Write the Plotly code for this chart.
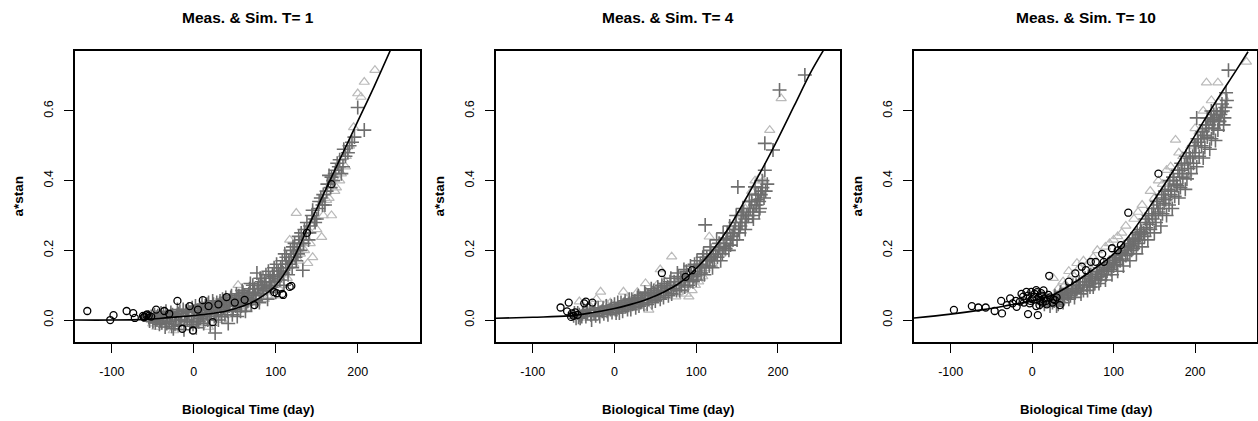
import plotly.graph_objects as go

# ---------------- data ----------------
titles = ["Meas. & Sim. T= 1", "Meas. & Sim. T= 4", "Meas. & Sim. T= 10"]
x_title = "Biological Time (day)"
y_title = "a*stan"
x_ticks = [-100, 0, 100, 200]
y_ticks = [0.0, 0.2, 0.4, 0.6]
x_range = [-145, 276]
y_range = [-0.063, 0.772]

# fitted curves
t1_curve_x = [-145, -100, -60, -40, -20, 0, 20, 40, 60, 80, 100, 120, 140, 160, 180, 200, 220, 240]
t1_curve_y = [0.0, 0.0, 0.002, 0.005, 0.009, 0.013, 0.018, 0.026, 0.04, 0.063, 0.1, 0.17, 0.27, 0.37, 0.47, 0.57, 0.67, 0.775]
t4_curve_x = [-145, -100, -56, -30, 0, 20, 40, 60, 80, 100, 120, 140, 160, 180, 200, 220, 240, 256]
t4_curve_y = [0.005, 0.008, 0.012, 0.02, 0.033, 0.045, 0.06, 0.08, 0.107, 0.148, 0.2, 0.265, 0.345, 0.43, 0.52, 0.615, 0.71, 0.775]
t10_curve_x = [-145, -100, -60, -30, 0, 25, 50, 75, 100, 125, 150, 175, 200, 225, 250, 265]
t10_curve_y = [0.006, 0.017, 0.03, 0.042, 0.055, 0.072, 0.105, 0.145, 0.19, 0.26, 0.345, 0.435, 0.53, 0.625, 0.715, 0.77]

# measured points (open circles)
t1_circles = [(-130, 0.026), (-102, 0.0), (-98, 0.014), (-82, 0.026), (-74, 0.02), (-72, 0.006), (-62, 0.012),
              (-60, 0.01), (-61, 0.008), (-58, 0.014), (-57, 0.016), (-55, 0.012), (-52, 0.01), (-46, 0.03),
              (-36, 0.026), (-30, 0.018), (-20, 0.055), (-14, -0.025), (-5, 0.04), (-1, -0.03), (5, 0.03),
              (11, 0.057), (18, 0.04), (23, -0.006), (30, 0.045), (40, 0.066), (50, 0.05), (62, 0.058),
              (74, 0.043), (98, 0.08), (101, 0.077), (108, 0.075), (109, 0.072), (117, 0.095), (119, 0.098),
              (138, 0.25), (168, 0.39)]
t4_circles = [(-66, 0.036), (-58, 0.025), (-56, 0.05), (-53, 0.009), (-52, 0.019), (-50, 0.012), (-48, 0.022),
              (-45, 0.015), (-37, 0.048), (-35, 0.053), (-27, 0.05), (58, 0.135), (87, 0.124), (95, 0.143)]
t10_circles = [(-96, 0.029), (-74, 0.04), (-66, 0.036), (-57, 0.036), (-46, 0.026), (-38, 0.055), (-37, 0.019),
               (-31, 0.043), (-27, 0.062), (-24, 0.048), (-20, 0.055), (-19, 0.038), (-15, 0.053), (-13, 0.075),
               (-11, 0.067), (-10, 0.05), (-7, 0.081), (-7, 0.062), (-5, 0.017), (-3, 0.048), (-1, 0.081),
               (0, 0.06), (2, 0.067), (5, 0.086), (5, 0.04), (7, 0.014), (9, 0.043), (10, 0.055), (11, 0.077),
               (14, 0.085), (15, 0.062), (20, 0.072), (21, 0.127), (25, 0.05), (28, 0.057), (34, 0.043),
               (-5, 0.07), (3, 0.075), (8, 0.065), (12, 0.07), (17, 0.055), (22, 0.065), (26, 0.06), (30, 0.065),
               (-2, 0.055), (6, 0.08), (13, 0.05), (18, 0.045),
               (45, 0.11), (53, 0.134), (61, 0.153), (66, 0.143), (72, 0.167), (78, 0.167), (86, 0.19),
               (88, 0.167), (98, 0.206), (105, 0.2), (109, 0.215), (118, 0.308), (155, 0.42)]

# simulated points, first set (open triangles, light grey)
t1_triangles = [(-50, -0.01), (-42, 0.0), (-35, -0.015), (-28, 0.005), (-20, -0.02), (-12, 0.01), (-5, -0.01),
                (2, 0.02), (8, 0.0), (15, 0.025), (22, 0.01), (30, 0.03), (38, 0.015), (45, 0.045), (54, 0.1),
                (60, 0.04), (68, 0.06), (75, 0.05), (82, 0.08), (90, 0.07), (96, 0.11), (104, 0.09), (110, 0.13),
                (117, 0.23), (122, 0.16), (125, 0.307), (130, 0.19), (139, 0.163), (145, 0.18), (150, 0.26),
                (156, 0.238), (162, 0.344), (168, 0.3), (174, 0.38), (180, 0.42), (186, 0.47), (195, 0.553),
                (200, 0.65), (204, 0.64), (208, 0.683), (221, 0.717),
                (-45, -0.02), (-38, -0.01), (-25, -0.03), (-15, -0.02), (-8, 0.0), (5, -0.01), (12, 0.0),
                (18, -0.02), (28, 0.005), (35, 0.0), (50, 0.02), (58, 0.03), (65, 0.035), (72, 0.06), (86, 0.06),
                (100, 0.07), (107, 0.1), (114, 0.12), (128, 0.17), (135, 0.2), (142, 0.22), (158, 0.3),
                (165, 0.35), (172, 0.37), (178, 0.4), (185, 0.44), (190, 0.5)]
t4_triangles = [(-43, 0.053), (-35, 0.03), (-17, 0.081), (-10, 0.046), (11, 0.081), (20, 0.04), (38, 0.105),
                (42, 0.029), (50, 0.06), (56, 0.145), (65, 0.07), (70, 0.182), (75, 0.067), (83, 0.086),
                (91, 0.067), (99, 0.1), (105, 0.12), (111, 0.148), (116, 0.239), (127, 0.21), (135, 0.22),
                (145, 0.25), (155, 0.3), (165, 0.35), (172, 0.4), (190, 0.545), (204, 0.636),
                (-30, 0.04), (-22, 0.06), (-5, 0.05), (5, 0.04), (15, 0.06), (28, 0.08), (33, 0.05), (47, 0.07),
                (52, 0.1), (62, 0.11), (78, 0.08), (88, 0.075), (95, 0.085), (103, 0.11), (108, 0.125),
                (120, 0.16), (130, 0.19), (150, 0.27), (160, 0.32), (168, 0.37), (178, 0.41), (182, 0.4)]
t10_triangles = [(26, 0.12), (30, 0.06), (35, 0.08), (40, 0.1), (45, 0.14), (55, 0.163), (60, 0.09), (63, 0.17),
                 (80, 0.2), (85, 0.13), (90, 0.21), (100, 0.23), (110, 0.25), (120, 0.2), (130, 0.31),
                 (140, 0.27), (150, 0.35), (160, 0.39), (170, 0.44), (176, 0.517), (185, 0.47), (190, 0.42),
                 (195, 0.5), (205, 0.54), (214, 0.681), (220, 0.63), (228, 0.681), (263, 0.741),
                 (32, 0.09), (38, 0.11), (50, 0.13), (58, 0.15), (68, 0.16), (75, 0.18), (95, 0.22), (105, 0.24),
                 (115, 0.27), (125, 0.29), (135, 0.33), (145, 0.37), (155, 0.4), (165, 0.43), (180, 0.48),
                 (200, 0.55), (210, 0.6), (235, 0.64)]

# simulated points, second set (plus signs, dark grey)
t1_plus = [(-55, 0.008), (-50, -0.005), (-48, 0.015), (-45, 0.0), (-42, -0.012), (-40, 0.02), (-38, 0.005),
           (-35, -0.02), (-32, 0.01), (-30, -0.005), (-28, 0.022), (-25, -0.025), (-22, 0.0), (-20, 0.03),
           (-18, -0.015), (-15, 0.012), (-12, -0.028), (-10, 0.025), (-8, 0.0), (-5, -0.018), (-2, 0.035),
           (0, 0.01), (3, -0.022), (5, 0.028), (8, 0.005), (10, 0.045), (12, -0.01), (15, 0.02), (18, 0.05),
           (20, -0.015), (22, 0.035), (25, 0.01), (26, -0.037), (28, 0.05), (30, 0.0), (33, 0.03), (35, 0.06),
           (38, 0.015), (40, 0.045), (42, -0.01), (45, 0.065), (48, 0.03), (50, 0.055), (53, 0.01), (55, 0.07),
           (58, 0.04), (60, 0.08), (63, 0.025), (65, 0.065), (68, 0.09), (70, 0.045), (72, 0.1), (75, 0.07),
           (77, 0.135), (80, 0.05), (83, 0.11), (85, 0.085), (88, 0.13), (90, 0.06), (93, 0.12), (95, 0.095),
           (98, 0.15), (100, 0.08), (103, 0.14), (105, 0.115), (108, 0.17), (110, 0.1), (113, 0.18),
           (115, 0.13), (118, 0.2), (120, 0.15), (123, 0.22), (125, 0.17), (128, 0.24), (130, 0.2),
           (133, 0.143), (135, 0.26), (140, 0.23), (145, 0.315), (150, 0.29), (155, 0.35), (160, 0.33),
           (165, 0.415), (170, 0.4), (175, 0.45), (180, 0.42), (182, 0.44), (190, 0.5), (196, 0.525),
           (200, 0.61), (208, 0.545),
           (-52, 0.01), (-47, -0.008), (-44, 0.012), (-41, 0.0), (-37, 0.018), (-33, -0.01), (-29, 0.008),
           (-26, 0.015), (-23, -0.012), (-19, 0.018), (-16, 0.0), (-13, 0.03), (-9, 0.012), (-6, 0.022),
           (-3, -0.005), (1, 0.025), (4, 0.0), (7, 0.035), (11, 0.015), (14, 0.04), (17, 0.0), (21, 0.025),
           (24, 0.045), (27, 0.015), (31, 0.04), (34, 0.01), (37, 0.055), (41, 0.025), (44, 0.05), (47, 0.015),
           (51, 0.04), (54, 0.06), (57, 0.025), (61, 0.06), (64, 0.045), (67, 0.075), (71, 0.06), (74, 0.09),
           (76, 0.055), (79, 0.1), (82, 0.075), (86, 0.11), (89, 0.09), (92, 0.1), (96, 0.13), (99, 0.11),
           (102, 0.125), (106, 0.15), (109, 0.135), (112, 0.16), (116, 0.17), (119, 0.18), (122, 0.19),
           (126, 0.2), (129, 0.22), (132, 0.23), (137, 0.25), (142, 0.27), (147, 0.29), (152, 0.32),
           (157, 0.33), (162, 0.37), (167, 0.38), (172, 0.42), (177, 0.44), (185, 0.47), (188, 0.48),
           (193, 0.51),
           (-54, -0.003), (-46, 0.008), (-39, -0.008), (-34, 0.025), (-27, -0.018), (-21, 0.012), (-17, 0.025),
           (-11, -0.005), (-7, 0.03), (-1, -0.012), (2, 0.04), (6, -0.005), (9, 0.02), (13, 0.03), (16, 0.045),
           (19, 0.01), (23, 0.055), (29, 0.03), (32, 0.055), (36, 0.035), (39, 0.065), (43, 0.04), (46, 0.07),
           (49, 0.045), (52, 0.075), (56, 0.05), (59, 0.085), (62, 0.07), (66, 0.055), (69, 0.105), (73, 0.08),
           (78, 0.09), (81, 0.12), (84, 0.095), (87, 0.1), (91, 0.14), (94, 0.11), (97, 0.125), (101, 0.16),
           (104, 0.13), (107, 0.14), (111, 0.19), (114, 0.15), (117, 0.16), (121, 0.21), (124, 0.18),
           (127, 0.19), (131, 0.25), (134, 0.22), (138, 0.28), (141, 0.25), (144, 0.3), (148, 0.28),
           (153, 0.34), (158, 0.36), (163, 0.39), (168, 0.41), (173, 0.43), (178, 0.46), (183, 0.49)]
t4_plus = [(-50, 0.012), (-45, 0.02), (-42, 0.005), (-38, 0.025), (-35, 0.01), (-30, 0.03), (-28, 0.0),
           (-25, 0.02), (-20, 0.035), (-18, 0.01), (-15, 0.025), (-10, 0.04), (-8, 0.015), (-5, 0.03),
           (0, 0.045), (2, 0.02), (5, 0.035), (8, 0.05), (10, 0.025), (14, 0.04), (18, 0.06), (20, 0.03),
           (24, 0.05), (28, 0.065), (30, 0.04), (34, 0.06), (38, 0.075), (40, 0.045), (44, 0.07), (48, 0.085),
           (50, 0.055), (54, 0.08), (58, 0.1), (60, 0.065), (64, 0.09), (68, 0.11), (70, 0.075), (74, 0.1),
           (78, 0.125), (80, 0.085), (84, 0.115), (88, 0.14), (90, 0.1), (94, 0.13), (98, 0.16), (100, 0.115),
           (104, 0.15), (108, 0.18), (110, 0.13), (111, 0.273), (114, 0.17), (118, 0.2), (119, 0.182),
           (120, 0.15), (124, 0.19), (128, 0.22), (130, 0.17), (134, 0.21), (138, 0.25), (140, 0.2),
           (142, 0.215), (144, 0.24), (148, 0.28), (150, 0.23), (151, 0.382), (154, 0.27), (158, 0.31),
           (160, 0.26), (164, 0.3), (168, 0.34), (170, 0.29), (172, 0.382), (174, 0.33), (176, 0.36),
           (178, 0.32), (180, 0.37), (184, 0.43), (184, 0.507), (194, 0.488), (202, 0.66), (233, 0.703),
           (-47, 0.005), (-43, 0.015), (-40, 0.01), (-33, 0.02), (-23, 0.012), (-13, 0.018), (-3, 0.022),
           (3, 0.03), (6, 0.02), (12, 0.045), (16, 0.03), (22, 0.045), (26, 0.035), (32, 0.05), (36, 0.045),
           (42, 0.06), (46, 0.05), (52, 0.07), (56, 0.06), (62, 0.08), (66, 0.07), (72, 0.09), (76, 0.085),
           (82, 0.1), (86, 0.095), (92, 0.115), (96, 0.11), (102, 0.13), (106, 0.135), (112, 0.15),
           (116, 0.155), (122, 0.17), (126, 0.18), (132, 0.19), (136, 0.205), (142, 0.23), (146, 0.25),
           (152, 0.26), (156, 0.28), (162, 0.3), (166, 0.32), (172, 0.33), (175, 0.345), (177, 0.34),
           (179, 0.36), (181, 0.38), (183, 0.35), (170, 0.31), (160, 0.29), (155, 0.3), (147, 0.26),
           (137, 0.235), (127, 0.2), (117, 0.175), (107, 0.155), (97, 0.125), (87, 0.12),
           (-49, 0.02), (-44, 0.008), (-39, 0.018), (-34, 0.028), (-29, 0.015), (-24, 0.03), (-19, 0.02),
           (-14, 0.035), (-9, 0.025), (-4, 0.04), (1, 0.03), (4, 0.05), (9, 0.038), (13, 0.055), (17, 0.045),
           (21, 0.06), (25, 0.055), (29, 0.07), (33, 0.06), (37, 0.08), (41, 0.07), (45, 0.09), (49, 0.075),
           (53, 0.095), (57, 0.085), (61, 0.105), (65, 0.095), (69, 0.12), (73, 0.11), (77, 0.135), (81, 0.12),
           (85, 0.145), (89, 0.13), (93, 0.155), (97, 0.14), (101, 0.17), (105, 0.16), (109, 0.19), (113, 0.18),
           (117, 0.21), (121, 0.19), (125, 0.23), (129, 0.21), (133, 0.25), (137, 0.22), (141, 0.27),
           (145, 0.23), (149, 0.3), (153, 0.25), (157, 0.32), (161, 0.28), (165, 0.34), (169, 0.3),
           (173, 0.36), (177, 0.31), (181, 0.4), (185, 0.37), (187, 0.39)]
t10_plus = [(10, 0.05), (15, 0.045), (18, 0.065), (20, 0.055), (22, 0.04), (25, 0.05), (28, 0.07), (30, 0.04),
            (33, 0.06), (35, 0.08), (38, 0.05), (40, 0.07), (42, 0.09), (45, 0.06), (48, 0.08), (50, 0.1),
            (52, 0.065), (55, 0.09), (58, 0.11), (60, 0.075), (62, 0.1), (65, 0.12), (68, 0.085), (70, 0.11),
            (72, 0.13), (75, 0.095), (78, 0.12), (80, 0.14), (82, 0.105), (85, 0.13), (88, 0.155), (90, 0.115),
            (92, 0.14), (95, 0.165), (98, 0.13), (100, 0.155), (102, 0.18), (105, 0.14), (108, 0.17),
            (110, 0.195), (112, 0.155), (115, 0.185), (118, 0.21), (120, 0.17), (122, 0.2), (125, 0.225),
            (128, 0.19), (130, 0.22), (132, 0.245), (135, 0.21), (138, 0.24), (140, 0.265), (142, 0.23),
            (145, 0.26), (148, 0.29), (150, 0.25), (152, 0.28), (155, 0.31), (158, 0.27), (160, 0.305),
            (162, 0.335), (165, 0.3), (168, 0.33), (170, 0.36), (172, 0.32), (175, 0.355), (178, 0.385),
            (180, 0.35), (182, 0.38), (185, 0.41), (188, 0.375), (190, 0.405), (192, 0.435), (195, 0.42),
            (198, 0.45), (200, 0.48), (202, 0.44), (202, 0.58), (205, 0.47), (208, 0.5), (210, 0.465),
            (212, 0.495), (215, 0.525), (215, 0.58), (218, 0.49), (220, 0.52), (220, 0.6), (222, 0.55),
            (225, 0.515), (226, 0.6), (228, 0.545), (230, 0.57), (232, 0.598), (235, 0.56), (238, 0.652),
            (241, 0.717),
            (27, 0.055), (32, 0.045), (37, 0.065), (43, 0.075), (47, 0.07), (53, 0.08), (57, 0.095), (63, 0.085),
            (67, 0.1), (71, 0.095), (74, 0.115), (77, 0.105), (81, 0.125), (84, 0.115), (87, 0.14), (91, 0.13),
            (94, 0.15), (97, 0.145), (101, 0.165), (104, 0.16), (107, 0.185), (111, 0.175), (114, 0.2),
            (117, 0.19), (121, 0.215), (124, 0.205), (127, 0.235), (131, 0.23), (134, 0.255), (137, 0.25),
            (141, 0.28), (144, 0.275), (147, 0.305), (151, 0.3), (154, 0.33), (157, 0.32), (161, 0.35),
            (164, 0.345), (167, 0.375), (171, 0.37), (174, 0.4), (177, 0.39), (181, 0.42), (184, 0.43),
            (187, 0.445), (191, 0.45), (194, 0.465), (197, 0.47), (201, 0.5), (204, 0.51), (207, 0.52),
            (211, 0.53), (214, 0.55), (217, 0.56), (221, 0.57), (224, 0.575), (227, 0.59), (231, 0.59),
            (234, 0.6), (237, 0.61), (236, 0.58), (229, 0.57), (223, 0.55),
            (29, 0.06), (34, 0.07), (39, 0.06), (44, 0.085), (49, 0.09), (54, 0.1), (59, 0.1), (64, 0.11),
            (69, 0.125), (73, 0.12), (79, 0.135), (83, 0.15), (89, 0.145), (93, 0.16), (99, 0.17), (103, 0.175),
            (109, 0.19), (113, 0.21), (119, 0.22), (123, 0.23), (129, 0.25), (133, 0.26), (139, 0.29),
            (143, 0.3), (149, 0.32), (153, 0.34), (159, 0.36), (163, 0.37), (169, 0.4), (173, 0.41),
            (179, 0.43), (183, 0.45), (189, 0.47), (193, 0.48), (199, 0.5), (203, 0.52), (209, 0.54),
            (213, 0.56), (219, 0.58), (223, 0.59), (233, 0.62), (239, 0.63)]

panels = [
    (t1_curve_x, t1_curve_y, t1_circles, t1_triangles, t1_plus),
    (t4_curve_x, t4_curve_y, t4_circles, t4_triangles, t4_plus),
    (t10_curve_x, t10_curve_y, t10_circles, t10_triangles, t10_plus),
]

# ---------------- layout geometry (pixels of a 1258x421 canvas) ----------------
W, H = 1258, 421
panel_px = [(75, 420), (496, 840), (914, 1257)]
top_px, bottom_px = 51, 342
FONT = "Arial, Liberation Sans, sans-serif"
PLUS_COL = "#6e6e6e"
TRI_COL = "#bababa"

fig = go.Figure()

for i, (cx, cy, circ, tri, plus) in enumerate(panels):
    xa = "x" if i == 0 else f"x{i+1}"
    ya = "y" if i == 0 else f"y{i+1}"
    fig.add_trace(go.Scatter(
        x=[p[0] for p in tri], y=[p[1] for p in tri], xaxis=xa, yaxis=ya, mode="markers",
        marker=dict(symbol="triangle-up-open", size=9, color=TRI_COL, line=dict(color=TRI_COL, width=1.2)),
        showlegend=False, hoverinfo="x+y"))
    fig.add_trace(go.Scatter(
        x=[p[0] for p in plus], y=[p[1] for p in plus], xaxis=xa, yaxis=ya, mode="markers",
        marker=dict(symbol="cross-thin-open", size=10, color=PLUS_COL, line=dict(color=PLUS_COL, width=1.6)),
        showlegend=False, hoverinfo="x+y"))
    fig.add_trace(go.Scatter(
        x=[p[0] for p in circ], y=[p[1] for p in circ], xaxis=xa, yaxis=ya, mode="markers",
        marker=dict(symbol="circle-open", size=7, color="#000000", line=dict(color="#000000", width=1.3)),
        showlegend=False, hoverinfo="x+y"))
    fig.add_trace(go.Scatter(
        x=cx, y=cy, xaxis=xa, yaxis=ya, mode="lines", line=dict(color="#000000", width=1.6, shape="spline"),
        showlegend=False, hoverinfo="skip"))

    l, r = panel_px[i]
    dom_x = [l / W, r / W]
    dom_y = [1 - bottom_px / H, 1 - top_px / H]
    axis_common = dict(showline=True, mirror=True, linecolor="#000000", linewidth=1.5,
                       showgrid=False, zeroline=False, ticks="outside", ticklen=9,
                       tickwidth=1, tickcolor="#000000",
                       tickfont=dict(family=FONT, size=12.5, color="#000000"))
    fig.layout[f"xaxis{'' if i == 0 else i+1}"] = dict(
        axis_common, domain=dom_x, range=x_range, tickvals=x_ticks,
        ticktext=[str(v) for v in x_ticks], anchor=ya, ticklabelstandoff=8)
    fig.layout[f"yaxis{'' if i == 0 else i+1}"] = dict(
        axis_common, domain=dom_y, range=y_range, tickvals=y_ticks,
        ticktext=[f"{v:.1f}" for v in y_ticks], anchor=xa, tickangle=-90, ticklabelstandoff=6)

    cx_px = (l + r) / 2
    fig.add_annotation(text=f"<b>{titles[i]}</b>", x=cx_px / W, y=1 - 17 / H, xref="paper", yref="paper",
                       showarrow=False, xanchor="center", yanchor="middle",
                       font=dict(family=FONT, size=15.5, color="#000000"))
    fig.add_annotation(text=f"<b>{x_title}</b>", x=cx_px / W, y=1 - 409 / H, xref="paper", yref="paper",
                       showarrow=False, xanchor="center", yanchor="middle",
                       font=dict(family=FONT, size=13.2, color="#000000"))
    fig.add_annotation(text=f"<b>{y_title}</b>", x=(l - 57) / W, y=1 - (top_px + bottom_px) / 2 / H,
                       xref="paper", yref="paper", showarrow=False, textangle=-90,
                       xanchor="center", yanchor="middle",
                       font=dict(family=FONT, size=13.5, color="#000000"))

fig.update_layout(width=W, height=H, margin=dict(l=0, r=0, t=0, b=0),
                  paper_bgcolor="#ffffff", plot_bgcolor="#ffffff", showlegend=False)

fig.write_html("out.html", config={"displayModeBar": False},
               post_script="document.body.style.margin='0';document.body.style.padding='0';"
                           "document.body.style.overflow='hidden';")
